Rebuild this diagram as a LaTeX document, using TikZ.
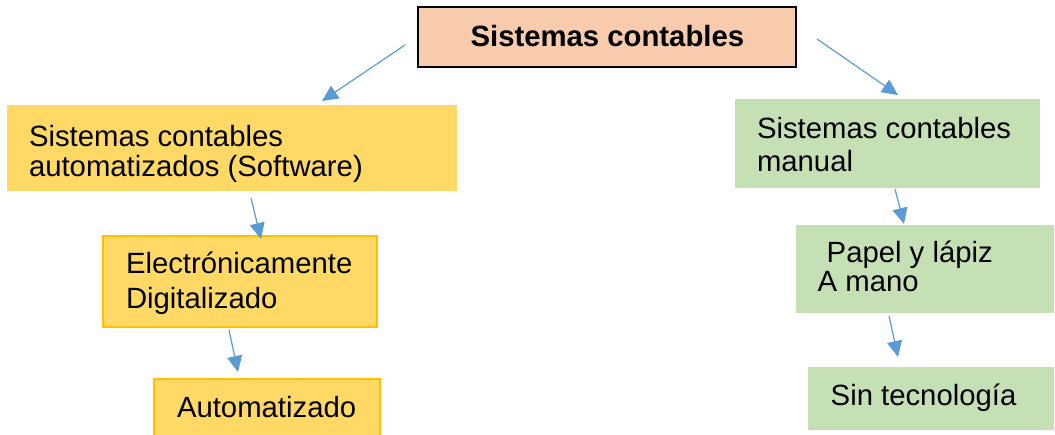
\documentclass[tikz,border=0pt]{standalone}
\usepackage{fontspec}
\setmainfont{Liberation Sans}
\usetikzlibrary{arrows.meta}
\definecolor{titlefill}{HTML}{F8CBAD}
\definecolor{yfill}{HTML}{FFD966}
\definecolor{yline}{HTML}{FFC000}
\definecolor{gfill}{HTML}{C5E0B4}
\definecolor{arrblue}{HTML}{5B9BD5}
\tikzset{
  box/.style={rectangle, inner sep=0pt, outer sep=0pt},
  titlebox/.style={box, fill=titlefill, draw=black, line width=1.6pt},
  ybox/.style={box, fill=yfill},
  yboxb/.style={box, fill=yfill, draw=yline, line width=1.3pt},
  gbox/.style={box, fill=gfill},
  txt/.style={inner sep=0pt, outer sep=0pt, anchor=base west, font=\fontsize{29.3}{29.3}\selectfont},
  arr/.style={draw=arrblue, line width=1.2pt, -{Triangle[length=16pt,width=15pt]}}
}
\begin{document}
\begin{tikzpicture}[x=1pt,y=-1pt]
\useasboundingbox (0,0) rectangle (1055,434);
\clip (0,0) rectangle (1055,434);
% boxes
\node[titlebox, minimum width=378pt, minimum height=60pt] (title) at (607,37) {};
\node[ybox, minimum width=450pt, minimum height=86pt] (y1) at (232,148) {};
\node[yboxb, minimum width=274pt, minimum height=91pt] (y2) at (240,281.5) {};
\node[yboxb, minimum width=226pt, minimum height=80pt] (y3) at (267,419) {};
\node[gbox, minimum width=305pt, minimum height=89pt] (g1) at (887.5,143.5) {};
\node[gbox, minimum width=258pt, minimum height=88pt] (g2) at (925,269) {};
\node[gbox, minimum width=246pt, minimum height=63pt] (g3) at (931,398.5) {};
% texts
\node[txt, anchor=base] (ttitle) at (607.4,46.7) {\bfseries Sistemas contables};
\node[txt] (ty1a) at (29,146.5) {Sistemas contables};
\node[txt] (ty1b) at (29,176) {automatizados (Software)};
\node[txt] (ty2a) at (126,273.3) {Electrónicamente};
\node[txt] (ty2b) at (126,308.3) {Digitalizado};
\node[txt] (ty3) at (177,417) {Automatizado};
\node[txt] (tg1a) at (757,138.3) {Sistemas contables};
\node[txt] (tg1b) at (757,171.7) {manual};
\node[txt] (tg2a) at (826.7,262.3) {Papel y lápiz};
\node[txt] (tg2b) at (817.7,291.7) {A mano};
\node[txt] (tg3) at (830.7,405.7) {Sin tecnología};
% arrow end points
\coordinate (a1s) at (405,45);  \coordinate (a1e) at (322,101);
\coordinate (a2s) at (817,39);  \coordinate (a2e) at (898,95);
\coordinate (a3s) at (251,198); \coordinate (a3e) at (261,239);
\coordinate (a4s) at (229,330); \coordinate (a4e) at (238,372);
\coordinate (a5s) at (895,189); \coordinate (a5e) at (904,224);
\coordinate (a6s) at (889,316); \coordinate (a6e) at (898,357);
\draw[arr] (a1s) -- (a1e);
\draw[arr] (a2s) -- (a2e);
\draw[arr] (a3s) -- (a3e);
\draw[arr] (a4s) -- (a4e);
\draw[arr] (a5s) -- (a5e);
\draw[arr] (a6s) -- (a6e);
\end{tikzpicture}
\end{document}
